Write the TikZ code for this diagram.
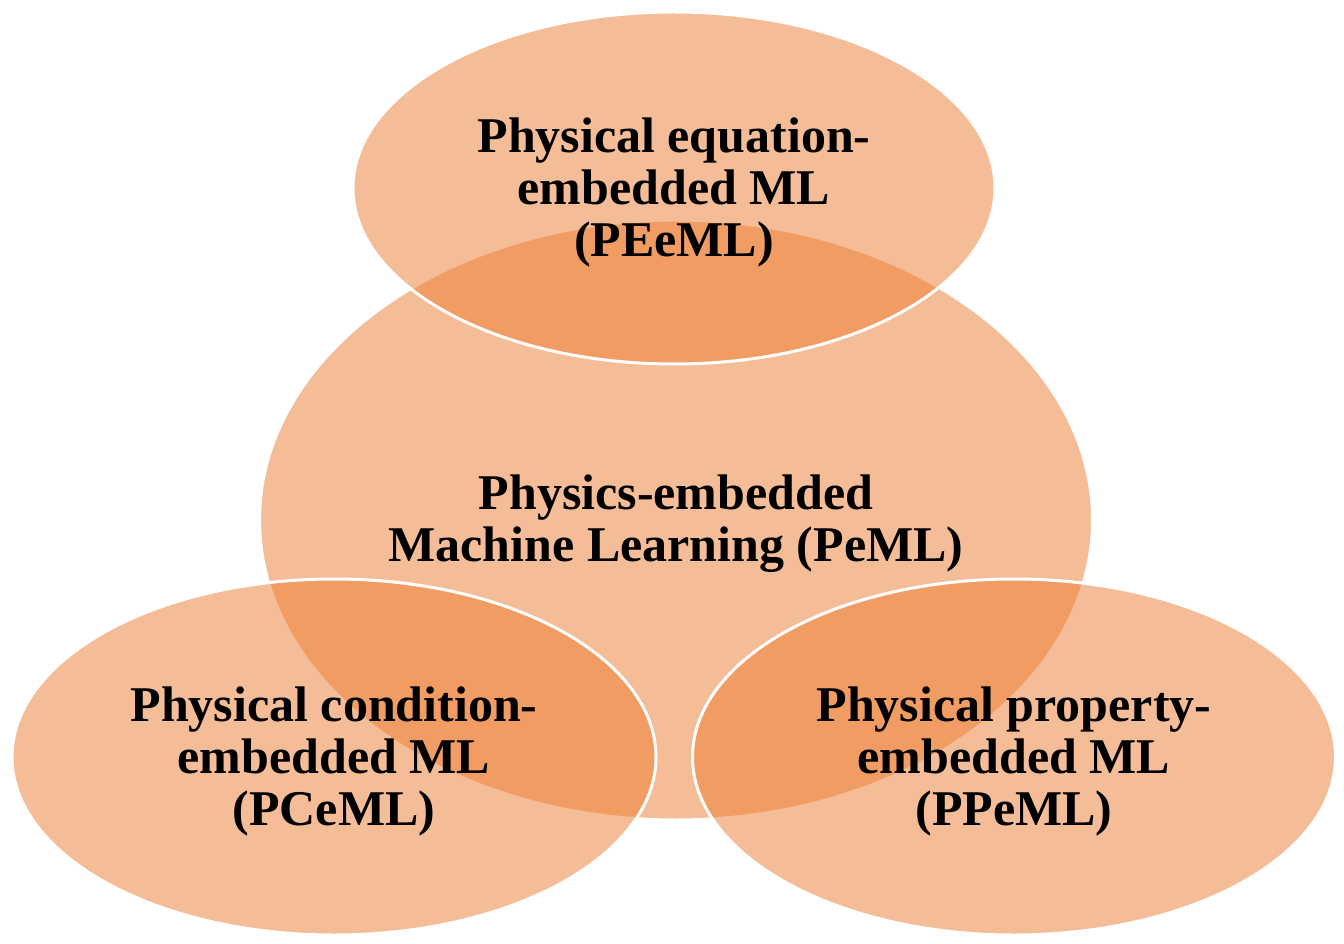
\documentclass[tikz,border=0pt]{standalone}
\usepackage{fontspec}
\setmainfont{Liberation Serif}
\usetikzlibrary{shapes.geometric}
\definecolor{accorange}{HTML}{ED7D31}
\begin{document}
\begin{tikzpicture}[x=0.75pt,y=-0.75pt,
  bubble/.style={ellipse, inner sep=0pt, fill=accorange, fill opacity=0.5,
    draw=white, draw opacity=1, line width=2.25pt},
  bubbletext/.style={inner sep=0pt, align=center, yshift=-3pt,
    font=\fontsize{37.5}{39}\selectfont\bfseries, text=black}]
\fill[white] (0,0) rectangle (1344,944);
\useasboundingbox (0,0) rectangle (1344,944);
\node[bubble, minimum width=624.75pt, minimum height=450pt] (peml) at (676,520) {};
\node[bubble, minimum width=481.5pt, minimum height=264pt] (peeml) at (674,188) {};
\node[bubble, minimum width=483pt, minimum height=267pt] (pceml) at (334,757) {};
\node[bubble, minimum width=482.25pt, minimum height=267pt] (ppeml) at (1014,757) {};
\node[bubbletext] (peml-t) at (peml.center) {Physics-embedded\\Machine Learning (PeML)};
\node[bubbletext] (peeml-t) at (peeml.center) {Physical equation-\\embedded ML\\(PEeML)};
\node[bubbletext] (pceml-t) at (pceml.center) {Physical condition-\\embedded ML\\(PCeML)};
\node[bubbletext] (ppeml-t) at (ppeml.center) {Physical property-\\embedded ML\\(PPeML)};
\end{tikzpicture}
\end{document}
